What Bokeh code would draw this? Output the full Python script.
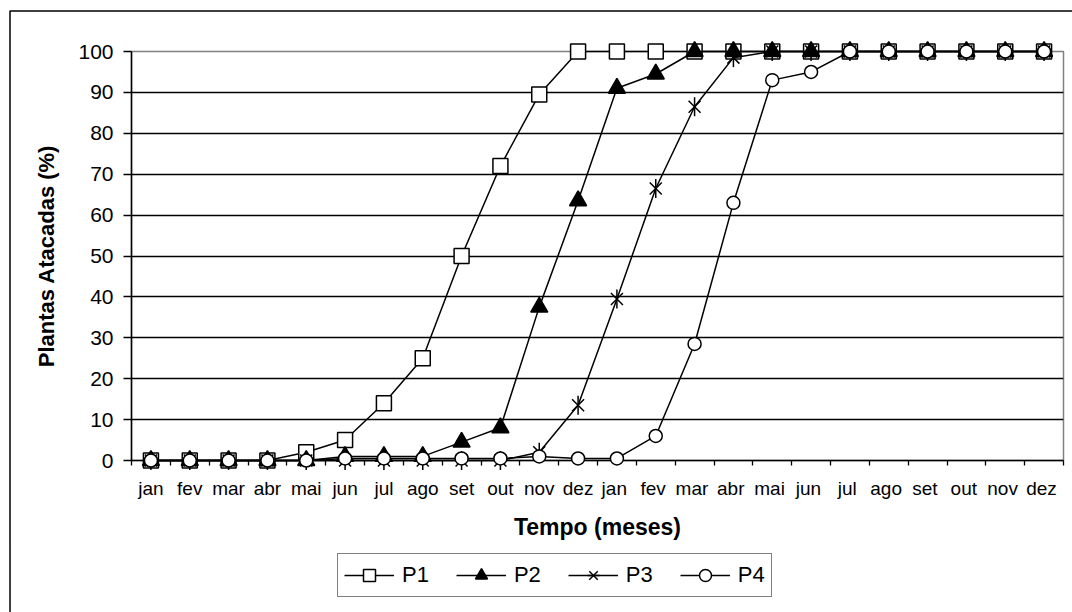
import math
from bokeh.plotting import figure
from bokeh.layouts import column
from bokeh.models import (FactorRange, Range1d, LinearAxis, CategoricalAxis,
                          FixedTicker, Legend, LegendItem, ColumnDataSource)
from bokeh.embed import file_html
from bokeh.resources import INLINE

# Months of the two observation years (the second year's names carry a
# trailing space so that every factor stays unique on the axis)
months = ["jan", "fev", "mar", "abr", "mai", "jun",
          "jul", "ago", "set", "out", "nov", "dez"]
factors = months + [m + " " for m in months]

# Cumulative share of attacked plants (%) per plot
p1 = [0, 0, 0, 0, 2, 5, 14, 25, 50, 72, 89.5, 100,
      100, 100, 100, 100, 100, 100, 100, 100, 100, 100, 100, 100]
p2 = [0, 0, 0, 0, 0, 1, 1, 1, 4.5, 8, 37.5, 63.5,
      91, 94.5, 100, 100, 100, 100, 100, 100, 100, 100, 100, 100]
p3 = [0, 0, 0, 0, 0, 0, 0, 0, 0, 0, 2, 13.5,
      39.5, 66.5, 86.5, 98.5, 100, 100, 100, 100, 100, 100, 100, 100]
p4 = [0, 0, 0, 0, 0, 0.5, 0.5, 0.5, 0.5, 0.5, 1, 0.5,
      0.5, 6, 28.5, 63, 93, 95, 100, 100, 100, 100, 100, 100]

y_ticks = list(range(0, 101, 10))

FONT = "Liberation Sans"
LW = 1.5

# page layout (pixels)
W = 1072
MAIN_H, LEG_H = 545, 67
FRAME_L, FRAME_R, FRAME_T, FRAME_B = 131, 1063, 51, 460
BOX_X, BOX_Y = 9.5, 10.5          # top-left corner of the chart's outer box
LEGEND_X, LEGEND_Y = 337, 15      # legend box: left edge, gap below it

p = figure(width=W, height=MAIN_H,
           x_range=FactorRange(factors=factors, range_padding=0),
           y_range=Range1d(0, 100),
           x_axis_location=None, y_axis_location="left",
           output_backend="svg", toolbar_location=None,
           min_border_left=FRAME_L, min_border_right=W - FRAME_R,
           min_border_top=FRAME_T, min_border_bottom=MAIN_H - FRAME_B,
           background_fill_color="white", border_fill_color="white")

p.outline_line_color = "#808080"
p.outline_line_width = 1.5
p.xgrid.visible = False
p.ygrid.ticker = FixedTicker(ticks=y_ticks[1:-1])
p.ygrid.grid_line_color = "black"
p.ygrid.grid_line_width = 1.3

# y axis
ya = p.yaxis[0]
ya.ticker = FixedTicker(ticks=y_ticks)
ya.axis_line_color = "black"
ya.axis_line_width = 1.5
ya.major_tick_line_color = "black"
ya.major_tick_line_width = 1.3
ya.major_tick_out = 8
ya.major_tick_in = 0
ya.minor_tick_line_color = None
ya.major_label_text_font = FONT
ya.major_label_text_font_size = "21px"
ya.major_label_text_color = "black"
ya.major_label_standoff = 10
ya.axis_label = "Plantas Atacadas (%)"
ya.axis_label_text_font = FONT
ya.axis_label_text_font_style = "bold"
ya.axis_label_text_font_size = "22px"
ya.axis_label_text_color = "black"
ya.axis_label_standoff = 16

# x axis: tick marks on month boundaries (synthetic positions 0..24),
# labels on month centres
edge_axis = LinearAxis(ticker=FixedTicker(ticks=list(range(len(factors) + 1))),
                       axis_line_color="black", axis_line_width=1.5,
                       major_tick_line_color="black", major_tick_line_width=1.3,
                       major_tick_out=5, major_tick_in=0,
                       minor_tick_line_color=None,
                       major_label_text_font_size="1px",
                       major_label_text_alpha=0, major_label_standoff=0)
p.add_layout(edge_axis, "below")

month_axis = CategoricalAxis(axis_line_color=None, major_tick_line_color=None,
                             major_tick_out=0, major_tick_in=0,
                             major_label_text_font=FONT,
                             major_label_text_font_size="19px",
                             major_label_text_color="black",
                             major_label_standoff=12,
                             axis_label="Tempo (meses)",
                             axis_label_text_font=FONT,
                             axis_label_text_font_style="bold",
                             axis_label_text_font_size="23px",
                             axis_label_text_color="black",
                             axis_label_standoff=12)
p.add_layout(month_axis, "below")

src = ColumnDataSource(dict(x=factors, p1=p1, p2=p2, p3=p3, p4=p4))


def draw_series(fig, source, xcol, ycol, marker_specs, level="overlay"):
    """Line plus markers for one plot; returns the renderers."""
    rs = [fig.line(xcol, ycol, source=source, line_color="black",
                   line_width=LW, level=level)]
    for spec in marker_specs:
        rs.append(fig.scatter(xcol, ycol, source=source, line_color="black",
                              line_width=LW, level=level, **spec))
    return rs


markers = {
    "P1": [dict(marker="square", size=15, fill_color="white")],
    "P2": [dict(marker="triangle", size=17, fill_color="black")],
    # six-armed star: an x crossed by a vertical bar
    "P3": [dict(marker="x", size=17),
           dict(marker="dash", size=19, angle=math.pi / 2)],
    "P4": [dict(marker="circle", size=13, fill_color="white")],
}
for name, col in [("P1", "p1"), ("P2", "p2"), ("P3", "p3"), ("P4", "p4")]:
    draw_series(p, src, "x", col, markers[name])

# outer box of the chart (left and top edges), placed from the page layout
cat_w = (FRAME_R - FRAME_L) / len(factors)
px_per_unit = (FRAME_B - FRAME_T) / 100
box_left = (BOX_X - FRAME_L) / cat_w - 0.5
box_top = (FRAME_B - BOX_Y) / px_per_unit
box_bottom = (FRAME_B - MAIN_H - 5) / px_per_unit
p.line(x=[(factors[0], box_left), (factors[0], box_left), (factors[-1], 2)],
       y=[box_bottom, box_top, box_top],
       line_color="black", line_width=1.5, level="overlay")

# legend strip below the chart; the column lines its frame up with the
# chart's frame, so its x range runs in page pixels across that span
leg = figure(width=W, height=LEG_H,
             x_range=Range1d(FRAME_L, FRAME_R), y_range=Range1d(0, LEG_H),
             x_axis_location=None, y_axis_location=None,
             output_backend="svg", toolbar_location=None,
             min_border_left=FRAME_L, min_border_right=W - FRAME_R,
             min_border_top=0, min_border_bottom=0,
             background_fill_color="white", border_fill_color="white")
leg.grid.visible = False
leg.outline_line_color = None
leg.line(x=[BOX_X, BOX_X], y=[-5, LEG_H + 5], line_color="black",
         line_width=1.5, level="overlay")

# swatch renderers sit outside the strip's visible range; only their
# styles are used by the legend
swatch = ColumnDataSource(dict(x=[-500, -400], y=[-500, -500]))
items = [LegendItem(label=name,
                    renderers=draw_series(leg, swatch, "x", "y", markers[name],
                                          level="glyph"))
         for name in ["P1", "P2", "P3", "P4"]]
legend = Legend(items=items, orientation="horizontal",
                location=(LEGEND_X - FRAME_L, LEGEND_Y),
                label_text_font=FONT, label_text_font_size="22px",
                label_text_color="black",
                glyph_width=50, glyph_height=30, label_standoff=8,
                spacing=27, padding=6, margin=0,
                border_line_color="black", border_line_width=1.5,
                background_fill_color="white", background_fill_alpha=1)
leg.add_layout(legend, "center")

page = column(p, leg, spacing=0)
open("out.html", "w").write(file_html(page, INLINE))
